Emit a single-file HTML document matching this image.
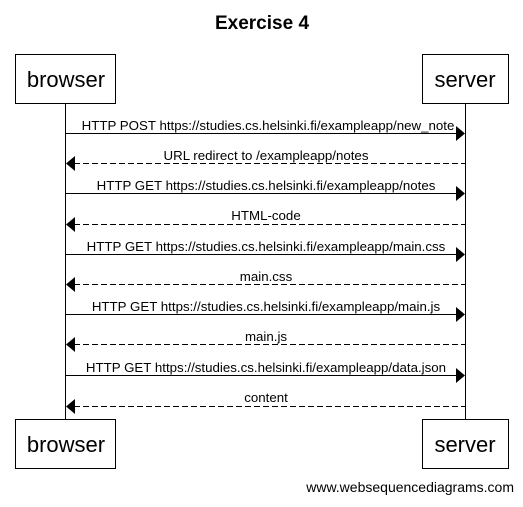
<!DOCTYPE html>
<html><head><style>body{margin:0;background:#fff}</style></head><body>
<svg width="523" height="502" xmlns="http://www.w3.org/2000/svg" font-family="Liberation Sans, Arial, sans-serif">
<rect width="523" height="502" fill="#fff"/>
<text x="262" y="29" font-size="19" font-weight="bold" text-anchor="middle">Exercise 4</text>
<g stroke="#000" fill="#fff" stroke-width="1">
<line x1="65.5" y1="103" x2="65.5" y2="420"/>
<line x1="465.5" y1="103" x2="465.5" y2="420"/>
<rect x="15.5" y="54.5" width="100" height="49"/>
<rect x="422.5" y="54.5" width="86" height="49"/>
<rect x="15.5" y="419.5" width="100" height="49"/>
<rect x="422.5" y="419.5" width="86" height="49"/>
</g>
<g font-size="22" text-anchor="middle">
<text x="66" y="87">browser</text><text x="465" y="87">server</text>
<text x="66" y="452">browser</text><text x="465" y="452">server</text>
</g>
<g stroke="#000" stroke-width="1">
<line x1="66" y1="133.5" x2="457" y2="133.5"/>
<line x1="74" y1="163.5" x2="465" y2="163.5" stroke-dasharray="6,3"/>
<line x1="66" y1="193.5" x2="457" y2="193.5"/>
<line x1="74" y1="224.5" x2="465" y2="224.5" stroke-dasharray="6,3"/>
<line x1="66" y1="254.5" x2="457" y2="254.5"/>
<line x1="74" y1="284.5" x2="465" y2="284.5" stroke-dasharray="6,3"/>
<line x1="66" y1="314.5" x2="457" y2="314.5"/>
<line x1="74" y1="344.5" x2="465" y2="344.5" stroke-dasharray="6,3"/>
<line x1="66" y1="375.5" x2="457" y2="375.5"/>
<line x1="74" y1="406.5" x2="465" y2="406.5" stroke-dasharray="6,3"/>
</g>
<g fill="#000">
<polygon points="456,126 465,133.5 456,141"/>
<polygon points="75,156 66,163.5 75,171"/>
<polygon points="456,186 465,193.5 456,201"/>
<polygon points="75,217 66,224.5 75,232"/>
<polygon points="456,247 465,254.5 456,262"/>
<polygon points="75,277 66,284.5 75,292"/>
<polygon points="456,307 465,314.5 456,322"/>
<polygon points="75,337 66,344.5 75,352"/>
<polygon points="456,368 465,375.5 456,383"/>
<polygon points="75,399 66,406.5 75,414"/>
</g>
<g font-size="13.3" text-anchor="middle">
<text x="268" y="130">HTTP POST https://studies.cs.helsinki.fi/exampleapp/new_note</text>
<text x="266" y="160">URL redirect to /exampleapp/notes</text>
<text x="266" y="190">HTTP GET https://studies.cs.helsinki.fi/exampleapp/notes</text>
<text x="266" y="220">HTML-code</text>
<text x="266" y="251">HTTP GET https://studies.cs.helsinki.fi/exampleapp/main.css</text>
<text x="266" y="281">main.css</text>
<text x="266" y="311">HTTP GET https://studies.cs.helsinki.fi/exampleapp/main.js</text>
<text x="266" y="341">main.js</text>
<text x="266" y="372">HTTP GET https://studies.cs.helsinki.fi/exampleapp/data.json</text>
<text x="266" y="402">content</text>
</g>
<text x="514" y="492" font-size="14" text-anchor="end">www.websequencediagrams.com</text>
</svg>
</body></html>
